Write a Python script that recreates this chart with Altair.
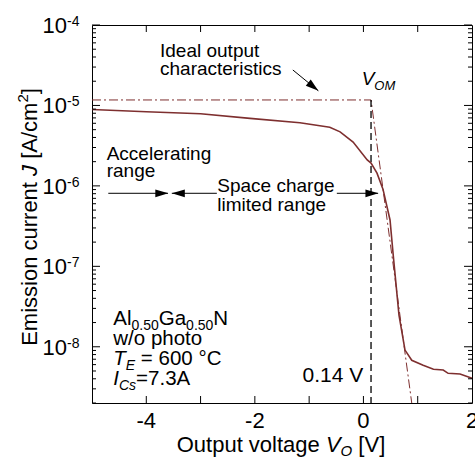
import altair as alt
import pandas as pd

# ---------------- data ----------------
V_O = [-5.0, -4.0, -3.0, -2.09, -1.17, -0.62, -0.43, -0.19, 0.07, 0.14, 0.25,
       0.36, 0.49, 0.55, 0.655, 0.766, 0.89, 1.10, 1.29, 1.47, 1.56, 1.78, 2.0]
J = [8.9e-6, 8.36e-6, 7.88e-6, 6.9e-6, 6.1e-6, 5.35e-6, 4.7e-6, 3.5e-6, 2.1e-6,
     1.92e-6, 1.44e-6, 9.1e-7, 3.77e-7, 1.35e-7, 2.48e-8, 9.1e-9, 6.8e-9, 5.9e-9,
     5.25e-9, 5.14e-9, 4.68e-9, 4.58e-9, 4.05e-9]

IDEAL_V = [-5.0, 0.14, 0.89]
IDEAL_J = [1.17e-5, 1.17e-5, 2e-9]
V_OM = 0.14

X_DOMAIN = [-5, 2]
Y_DOMAIN = [2e-9, 1e-4]
X_LABELS = [-4, -2, 0, 2]
X_LABEL_TEXT = ["-4", "-2", "0", "2"]
X_TICKS = [-4, -3, -2, -1, 0, 1]
Y_MAJOR = [1e-4, 1e-5, 1e-6, 1e-7, 1e-8]
Y_EXP = ["-4", "-5", "-6", "-7", "-8"]
Y_MINOR = [k * 10.0 ** e for e in range(-9, -4) for k in range(2, 10)
           if Y_DOMAIN[0] * 0.999 <= k * 10.0 ** e <= Y_DOMAIN[1]]

# annotation anchors (data space)
ARROW_IDEAL = dict(x=-1.30, y=2.76e-5, x2=-0.83, y2=1.52e-5)
RANGE_J = 8.09e-7
ARROW_ACC = dict(x=-4.70, x2=-3.60)
ARROW_SC_L = dict(x=-3.53, x2=-2.70)
ARROW_SC_R = dict(x=-0.49, x2=0.27)

FONT = "Liberation Sans"
W, H = 380, 378
CURVE = "#7e2f2f"

# Arial advance widths (1/1000 em)
AW = {' ': 278, 'O': 778, 'u': 556, 't': 278, 'p': 556, 'v': 500, 'o': 556, 'l': 222,
      'a': 556, 'g': 556, 'e': 556, 'V': 667, '[': 278, ']': 278, 'E': 667, 'm': 833,
      'i': 222, 's': 500, 'n': 556, 'c': 500, 'r': 333, 'J': 500, 'A': 667, '/': 278,
      '.': 278, 'G': 778, 'N': 722, 'w': 722, 'h': 556, 'T': 611, '=': 584, '°': 400,
      'C': 722, 'I': 278, 'd': 556, 'M': 833, '-': 333, 'y': 500, 'f': 278}
for d in "0123456789":
    AW[d] = 556


def tw(s, size):
    return sum(AW.get(ch, 556) for ch in s) * size / 1000.0


dummy = pd.DataFrame({"a": [0]})
xs = alt.Scale(domain=X_DOMAIN, nice=False, zero=False)
ys = alt.Scale(type="log", domain=Y_DOMAIN, nice=False)


def txt(s, x, y, size, italic=False, align="left", angle=0, dx=0.0, dy=0.0):
    kw = dict(text=s, font=FONT, fontSize=size, align=align, baseline="alphabetic",
              color="black", dx=dx, dy=dy)
    if italic:
        kw["fontStyle"] = "italic"
    if angle:
        kw["angle"] = angle
    return alt.Chart(dummy).mark_text(**kw).encode(x=alt.value(x), y=alt.value(y))


def rich(pieces, x, y, angle=0):
    out = []
    off = 0.0
    for s, size, it, dyy in pieces:
        core = s.strip(" ")
        lead = len(s) - len(s.lstrip(" "))
        off += tw(" " * lead, size)
        out.append(txt(core, x, y, size, it, angle=angle, dx=off, dy=dyy))
        off += tw(s, size) - tw(" " * lead, size)
    return out


# ---------------- data marks ----------------
curve_df = pd.DataFrame({"V": V_O, "J": J})
ideal_df = pd.DataFrame({"V": IDEAL_V, "J": IDEAL_J})

curve = alt.Chart(curve_df).mark_line(color=CURVE, strokeWidth=1.6).encode(
    x=alt.X("V:Q", scale=xs, axis=None),
    y=alt.Y("J:Q", scale=ys, axis=None),
    order="V:Q",
)

ideal = alt.Chart(ideal_df).mark_line(color=CURVE, strokeWidth=1,
                                      strokeDash=[9, 3, 2, 3]).encode(
    x=alt.X("V:Q", scale=xs, axis=None),
    y=alt.Y("J:Q", scale=ys, axis=None),
    order=alt.Order("V:Q"),
)

vom_df = pd.DataFrame({"V": [V_OM], "J1": [IDEAL_J[0]], "J2": [Y_DOMAIN[0]]})
vom = alt.Chart(vom_df).mark_rule(color="black", strokeWidth=1.3,
                                  strokeDash=[7, 4]).encode(
    x=alt.X("V:Q", scale=xs, axis=None),
    y=alt.Y("J1:Q", scale=ys, axis=None),
    y2="J2:Q",
)

# ---------------- frame ticks (inward) and tick labels ----------------
ymaj_df = pd.DataFrame({"v": Y_MAJOR, "b": ["10"] * len(Y_MAJOR), "e": Y_EXP})
ymin_df = pd.DataFrame({"v": Y_MINOR})
xt_df = pd.DataFrame({"v": X_TICKS})
xl_df = pd.DataFrame({"v": X_LABELS, "t": X_LABEL_TEXT})


def yticks(df, length):
    left = alt.Chart(df).mark_rule(color="black", strokeWidth=1).encode(
        y=alt.Y("v:Q", scale=ys, axis=None), x=alt.value(0), x2=alt.value(length))
    right = alt.Chart(df).mark_rule(color="black", strokeWidth=1).encode(
        y=alt.Y("v:Q", scale=ys, axis=None), x=alt.value(W - length), x2=alt.value(W))
    return [left, right]


xtick_top = alt.Chart(xt_df).mark_rule(color="black", strokeWidth=1).encode(
    x=alt.X("v:Q", scale=xs, axis=None), y=alt.value(0), y2=alt.value(7))
xtick_bot = alt.Chart(xt_df).mark_rule(color="black", strokeWidth=1).encode(
    x=alt.X("v:Q", scale=xs, axis=None), y=alt.value(H - 7), y2=alt.value(H))

xlab = alt.Chart(xl_df).mark_text(font=FONT, fontSize=22, align="center",
                                   baseline="alphabetic", color="black").encode(
    x=alt.X("v:Q", scale=xs, axis=None), y=alt.value(H + 25), text="t:N")

ylab_base = alt.Chart(ymaj_df).mark_text(font=FONT, fontSize=22, align="right",
                                          baseline="alphabetic", dy=8, color="black").encode(
    y=alt.Y("v:Q", scale=ys, axis=None), x=alt.value(-25), text="b:N")
ylab_exp = alt.Chart(ymaj_df).mark_text(font=FONT, fontSize=14, align="left",
                                         baseline="alphabetic", dy=1, color="black").encode(
    y=alt.Y("v:Q", scale=ys, axis=None), x=alt.value(-25), text="e:N")

# ---------------- arrows ----------------
HEAD = "M0,0 L0.6,2 L-0.6,2 Z"


def head(x, y, angle):
    d = pd.DataFrame({"x": [x], "y": [y]})
    return alt.Chart(d).mark_point(shape=HEAD, filled=True, fill="black", size=169,
                                   angle=angle, opacity=1, strokeWidth=0).encode(
        x=alt.X("x:Q", scale=xs, axis=None), y=alt.Y("y:Q", scale=ys, axis=None))


def hline(x1, x2, y):
    d = pd.DataFrame({"x": [x1], "x2": [x2], "y": [y]})
    return alt.Chart(d).mark_rule(color="black", strokeWidth=1).encode(
        x=alt.X("x:Q", scale=xs, axis=None), x2="x2:Q",
        y=alt.Y("y:Q", scale=ys, axis=None))


a1 = pd.DataFrame({k: [v] for k, v in ARROW_IDEAL.items()})
arrow_ideal = alt.Chart(a1).mark_rule(color="black", strokeWidth=1).encode(
    x=alt.X("x:Q", scale=xs, axis=None), x2="x2:Q",
    y=alt.Y("y:Q", scale=ys, axis=None), y2="y2:Q")

arrows = [
    arrow_ideal, head(ARROW_IDEAL["x2"], ARROW_IDEAL["y2"], 129),
    hline(ARROW_ACC["x"], ARROW_ACC["x2"], RANGE_J), head(ARROW_ACC["x2"] + 0.006, RANGE_J, 90),
    hline(ARROW_SC_L["x"], ARROW_SC_L["x2"], RANGE_J), head(ARROW_SC_L["x"], RANGE_J, 270),
    hline(ARROW_SC_R["x"], ARROW_SC_R["x2"], RANGE_J), head(ARROW_SC_R["x2"] + 0.006, RANGE_J, 90),
]

# ---------------- texts ----------------
texts = []
texts += [txt("Ideal output", 68, 31.7, 19), txt("characteristics", 68, 49.5, 19)]
texts += rich([("V", 19, True, 0), ("OM", 13, True, 4.5)], 269.7, 60)
texts += [txt("Accelerating", 14.7, 135, 19), txt("range", 14.7, 152, 19)]
texts += [txt("Space charge", 125.3, 167, 19), txt("limited range", 125.3, 185.5, 19)]
LL = 20.5
SUB = 14
texts += rich([("Al", LL, False, 0), ("0.50", SUB, False, 5), ("Ga", LL, False, 0),
               ("0.50", SUB, False, 5), ("N", LL, False, 0)], 21.3, 299.7)
texts += [txt("w/o photo", 21.3, 319.7, LL)]
texts += rich([("T", LL, True, 0), ("E", SUB, True, 5), (" = 600 °C", LL, False, 0)], 21.3, 339.7)
texts += rich([("I", LL, True, 0), ("Cs", SUB, True, 5), ("=7.3A", LL, False, 0)], 21.3, 359.7)
texts += [txt("0.14 V", 271.3, 357, 21, align="right")]

# axis titles
TF = 22
xt_pieces = [("Output voltage ", TF, False, 0), ("V", TF, True, 0), ("O", 15, True, 4),
             (" [V]", TF, False, 0)]
texts += rich(xt_pieces, 84.7, 427)
yt_pieces = [("Emission current ", TF, False, 0), ("J", TF, True, 0),
             (" [A/cm", TF, False, 0), ("2", 15, False, -9), ("]", TF, False, 0)]
yt_len = sum(tw(s, f) for s, f, _, _ in yt_pieces)
texts += rich(yt_pieces, -55, H / 2 + 3 + yt_len / 2, angle=270)

layers = [ideal, vom, curve] + yticks(ymaj_df, 8) + yticks(ymin_df, 4) + \
    [xtick_top, xtick_bot, xlab, ylab_base, ylab_exp] + arrows + texts

chart = alt.layer(*layers).properties(
    width=W, height=H,
    autosize=alt.AutoSizeParams(type="none"),
    padding={"left": 92, "top": 25, "right": 3, "bottom": 54},
    background="white",
).configure_view(stroke="black", strokeWidth=1)

chart.save("out.html", embed_options={"renderer": "svg", "actions": False})
